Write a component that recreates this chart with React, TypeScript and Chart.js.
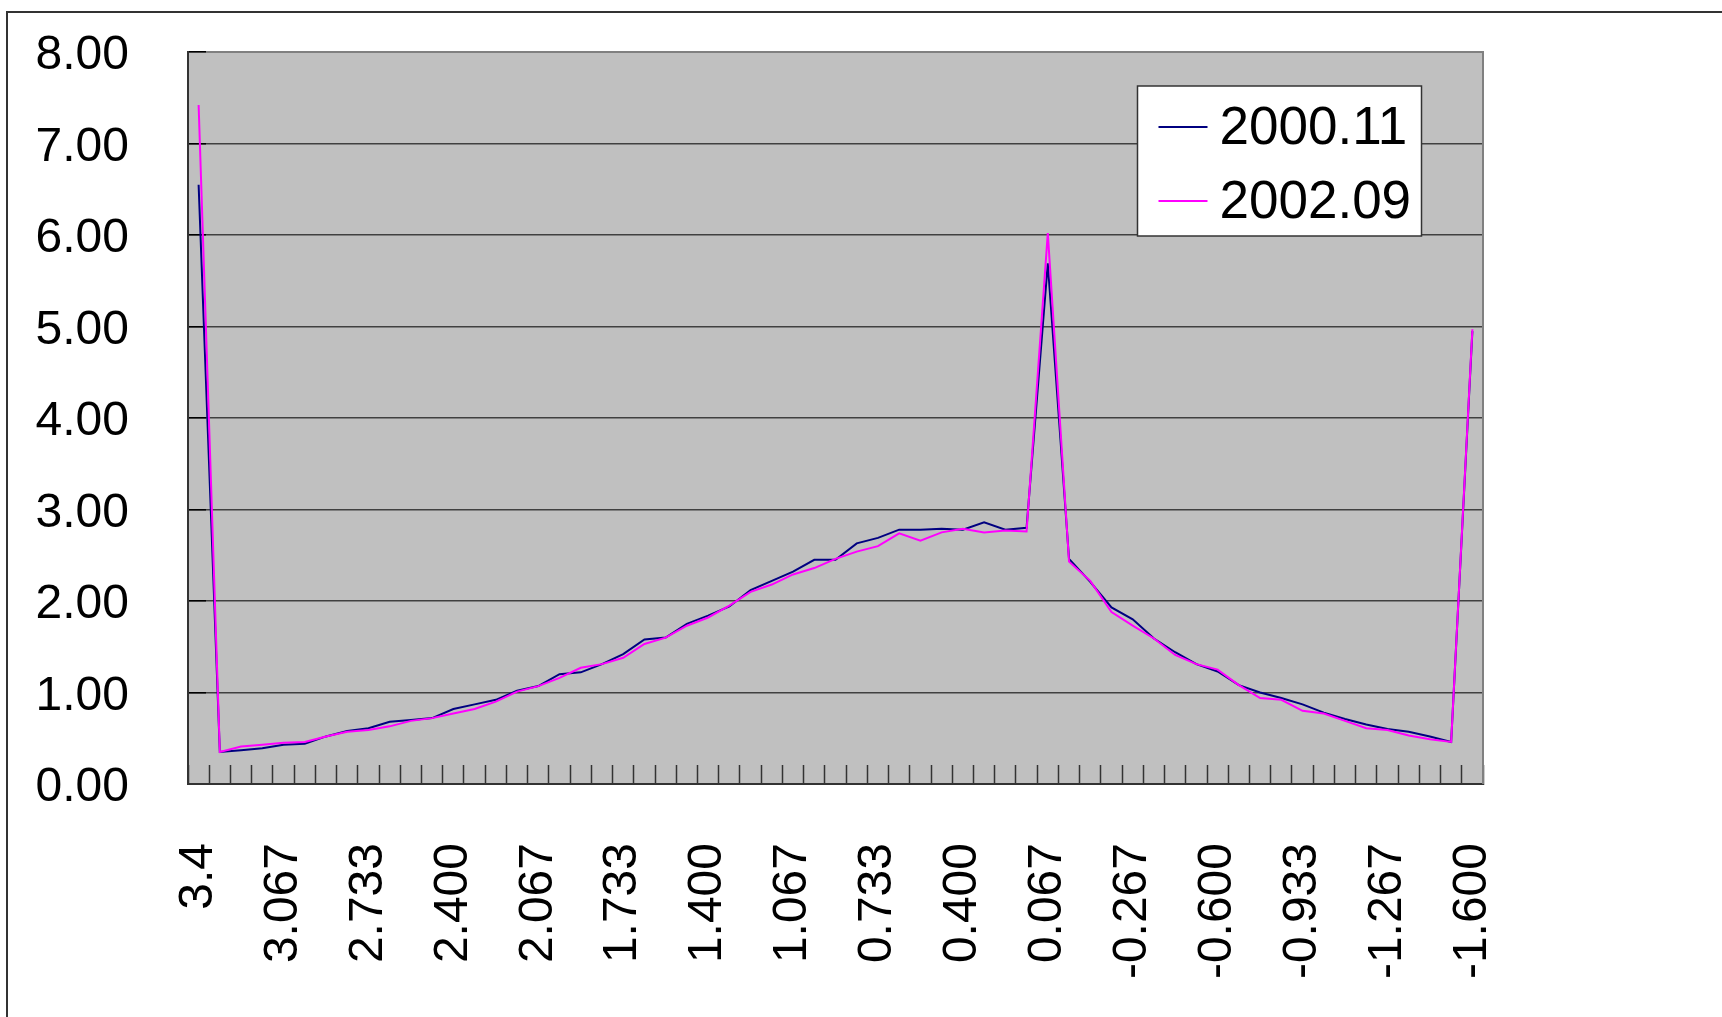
import React, { useEffect, useRef } from 'react';
import { Chart, registerables } from 'chart.js';

Chart.register(...registerables);

const categories = [
  '3.4', '3.317', '3.233', '3.150', '3.067', '2.983', '2.900', '2.817', '2.733', '2.650',
  '2.567', '2.483', '2.400', '2.317', '2.233', '2.150', '2.067', '1.983', '1.900', '1.817',
  '1.733', '1.650', '1.567', '1.483', '1.400', '1.317', '1.233', '1.150', '1.067', '0.983',
  '0.900', '0.817', '0.733', '0.650', '0.567', '0.483', '0.400', '0.317', '0.233', '0.150',
  '0.067', '-0.017', '-0.100', '-0.183', '-0.267', '-0.350', '-0.433', '-0.517', '-0.600', '-0.683',
  '-0.767', '-0.850', '-0.933', '-1.017', '-1.100', '-1.183', '-1.267', '-1.350', '-1.433', '-1.517',
  '-1.600',
];

const labelEvery = 4;

const series200011 = [
  6.55, 0.35, 0.37, 0.39, 0.43, 0.44, 0.52, 0.58, 0.61, 0.68,
  0.70, 0.72, 0.82, 0.87, 0.92, 1.02, 1.07, 1.20, 1.22, 1.31,
  1.42, 1.58, 1.60, 1.75, 1.84, 1.94, 2.12, 2.22, 2.32, 2.45,
  2.45, 2.63, 2.69, 2.78, 2.78, 2.79, 2.78, 2.86, 2.78, 2.80,
  5.69, 2.46, 2.21, 1.93, 1.80, 1.59, 1.44, 1.31, 1.23, 1.08,
  1.00, 0.94, 0.87, 0.78, 0.71, 0.65, 0.60, 0.57, 0.52, 0.46,
  4.95,
];

const series200209 = [
  7.42, 0.35, 0.41, 0.43, 0.45, 0.46, 0.52, 0.57, 0.59, 0.63,
  0.69, 0.72, 0.77, 0.82, 0.90, 1.01, 1.07, 1.16, 1.27, 1.31,
  1.38, 1.53, 1.60, 1.73, 1.82, 1.95, 2.10, 2.18, 2.29, 2.36,
  2.46, 2.54, 2.60, 2.74, 2.66, 2.75, 2.79, 2.75, 2.77, 2.76,
  6.02, 2.43, 2.22, 1.88, 1.73, 1.59, 1.41, 1.31, 1.25, 1.08,
  0.94, 0.92, 0.80, 0.77, 0.69, 0.61, 0.59, 0.53, 0.49, 0.46,
  4.97,
];

const seriesNames = ['2000.11', '2002.09'];
const seriesColors = ['#000080', '#FF00FF'];

const yMin = 0;
const yMax = 8;
const yStep = 1;

const FONT = '"Liberation Sans", Arial, Helvetica, sans-serif';

export default function App() {
  const ref = useRef<HTMLCanvasElement>(null);

  useEffect(() => {
    const canvas = ref.current;
    if (!canvas) return;

    const framePlugin = {
      id: 'frameAndPlotBg',
      beforeDraw(chart: any) {
        const { ctx, chartArea } = chart;
        ctx.save();
        // outer chart frame
        ctx.strokeStyle = '#333333';
        ctx.lineWidth = 2;
        ctx.beginPath();
        ctx.moveTo(7, 1030);
        ctx.lineTo(7, 12);
        ctx.lineTo(1740, 12);
        ctx.stroke();
        // plot area background
        ctx.fillStyle = '#C0C0C0';
        ctx.fillRect(chartArea.left, chartArea.top, chartArea.right - chartArea.left, chartArea.bottom - chartArea.top);
        ctx.restore();
      },
      beforeDatasetsDraw(chart: any) {
        const { ctx, chartArea } = chart;
        ctx.save();
        ctx.strokeStyle = '#808080';
        ctx.lineWidth = 2;
        ctx.beginPath();
        ctx.moveTo(chartArea.left + 18, chartArea.top);
        ctx.lineTo(chartArea.right, chartArea.top);
        ctx.lineTo(chartArea.right, chartArea.bottom);
        ctx.stroke();
        ctx.restore();
      },
    };

    const legendPlugin = {
      id: 'excelLegend',
      afterDatasetsDraw(chart: any) {
        const { ctx, chartArea } = chart;
        const left = chartArea.right - 345.5;
        const top = chartArea.top + 34;
        const w = 284;
        const h = 150;
        ctx.save();
        ctx.fillStyle = '#FFFFFF';
        ctx.fillRect(left, top, w, h);
        ctx.strokeStyle = '#333333';
        ctx.lineWidth = 1.5;
        ctx.strokeRect(left, top, w, h);
        const rows = [top + 41, top + 115];
        seriesNames.forEach((name, i) => {
          const y = rows[i];
          ctx.strokeStyle = seriesColors[i];
          ctx.lineWidth = 2;
          ctx.beginPath();
          ctx.moveTo(left + 21, y);
          ctx.lineTo(left + 70, y);
          ctx.stroke();
          ctx.fillStyle = '#000000';
          ctx.font = `53px ${FONT}`;
          ctx.textAlign = 'left';
          ctx.textBaseline = 'middle';
          ctx.fillText(name, left + 82, y + 2);
        });
        ctx.restore();
      },
    };

    const chart = new Chart(canvas, {
      type: 'line',
      data: {
        labels: categories,
        datasets: [
          {
            label: seriesNames[0],
            data: series200011,
            borderColor: seriesColors[0],
            backgroundColor: seriesColors[0],
            borderWidth: 2,
            pointRadius: 0,
            tension: 0,
            fill: false,
            order: 2,
          },
          {
            label: seriesNames[1],
            data: series200209,
            borderColor: seriesColors[1],
            backgroundColor: seriesColors[1],
            borderWidth: 2,
            pointRadius: 0,
            tension: 0,
            fill: false,
            order: 1,
          },
        ],
      },
      options: {
        animation: false,
        responsive: false,
        devicePixelRatio: 1,
        layout: { padding: { left: 0, top: 52, right: 239, bottom: 0 } },
        plugins: {
          legend: { display: false },
          tooltip: { enabled: false },
          title: { display: false },
        },
        scales: {
          x: {
            type: 'category',
            offset: true,
            grid: {
              offset: true,
              drawOnChartArea: false,
              drawTicks: true,
              tickLength: -19,
              tickColor: '#333333',
              tickWidth: 1.5,
            },
            border: { display: true, color: '#333333', width: 2 },
            ticks: {
              autoSkip: false,
              minRotation: 90,
              maxRotation: 90,
              padding: 78,
              color: '#000000',
              font: { family: FONT, size: 48 },
              callback: (_v: any, i: number) => (i % labelEvery === 0 ? categories[i] : ''),
            },
            afterFit: (s: any) => {
              s.height = 233;
              s.paddingLeft = 0;
              s.paddingRight = 0;
            },
          },
          y: {
            min: yMin,
            max: yMax,
            ticks: {
              stepSize: yStep,
              padding: 77,
              labelOffset: 4,
              color: '#000000',
              font: { family: FONT, size: 48 },
              callback: (v: any) => Number(v).toFixed(2),
            },
            grid: {
              color: '#404040',
              lineWidth: 1.5,
              drawTicks: true,
              tickLength: -18,
              tickColor: '#000000',
              tickWidth: 1.5,
            },
            border: { display: true, color: '#333333', width: 2 },
            afterFit: (s: any) => {
              s.width = 188;
              s.paddingTop = 0;
              s.paddingBottom = 0;
            },
          },
        },
      } as any,
      plugins: [framePlugin, legendPlugin],
    });

    return () => chart.destroy();
  }, []);

  return (
    <div
      style={{
        position: 'fixed',
        left: 0,
        top: 0,
        width: 1722,
        height: 1017,
        overflow: 'hidden',
        background: '#FFFFFF',
      }}
    >
      <canvas ref={ref} width={1722} height={1017} style={{ display: 'block' }} />
    </div>
  );
}
